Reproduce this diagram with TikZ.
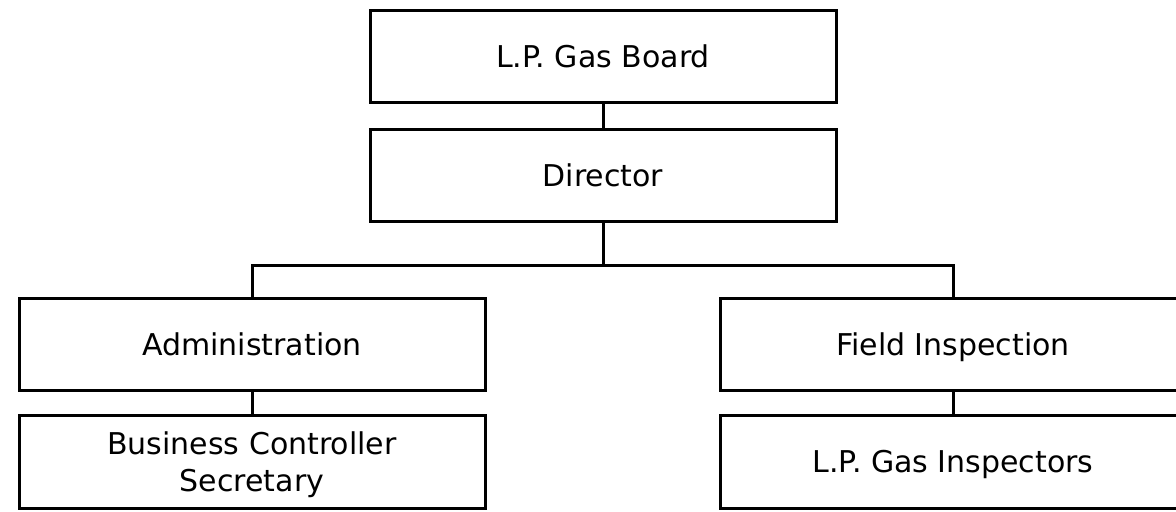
\documentclass[tikz,border=0pt]{standalone}
\usepackage{fontspec}
\setmainfont{DejaVu Sans}
\usepackage{tikz}

\begin{document}
\begin{tikzpicture}[x=0.5pt,y=-0.5pt,line width=1.5pt]
  \tikzstyle{unit}=[draw,rectangle,fill=white,minimum width=233pt,minimum height=46pt,
    inner sep=0pt,align=center,font=\fontsize{15}{18.5}\selectfont]
  \tikzstyle{single}=[unit,text height=11pt,text depth=0pt]
  \clip (0,0) rectangle (1176,512);
  \fill[white] (0,0) rectangle (1176,512);
  \node[single] (board) at (603,57)  {L.P. Gas Board};
  \node[single] (dir)   at (603,176) {Director};
  \node[single] (admin) at (252,345) {Administration};
  \node[unit]   (sec)   at (252,462) {\rule{0pt}{14pt}Business Controller\\Secretary};
  \node[single] (field) at (953,345) {Field Inspection};
  \node[single] (insp)  at (953,462) {L.P. Gas Inspectors};
  \coordinate (bar) at (603,266);
  \draw (board) -- (dir);
  \draw (dir.south) -- (bar) -| (admin.north);
  \draw (bar) -| (field.north);
  \draw (admin) -- (sec);
  \draw (field) -- (insp);
\end{tikzpicture}
\end{document}
